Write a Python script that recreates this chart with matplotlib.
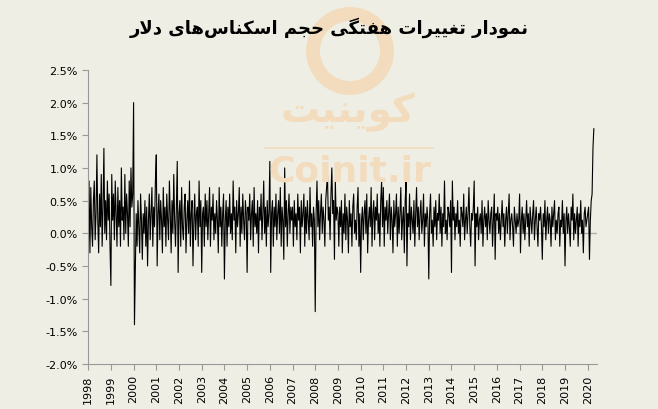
import matplotlib.pyplot as plt
from matplotlib.patches import Ellipse
import numpy as np

# weekly change in dollar banknote volume (%), estimated by eye, ~26 points per year
values = {
    1998: [-.6, .8, -.3, .7, .1, -.2, .5, .8, -.1, .3, 1.2, .2, -.3, .6, .1, .9, -.2, .4, 1.3, .0, .5, -.1, .8, .2, .6, -.2],
    1999: [-.8, .9, .2, .6, -.1, .8, .3, -.2, .7, .1, .5, -.2, 1.0, .2, .4, -.1, .9, .0, .6, .3, -.2, .8, .1, 1.0, .4, .6],
    2000: [2.0, -1.4, -.5, .3, -.2, .5, .1, -.3, .6, .2, -.4, .3, .0, .5, -.2, .4, -.5, .2, .6, -.1, .3, .7, -.2, .4, .1, .8],
    2001: [1.2, -.5, .3, .6, -.1, .5, .2, -.3, .7, .1, .4, -.2, .6, .2, -.1, .8, .3, -.3, .5, .0, .9, .2, -.2, .4, 1.1, -.6],
    2002: [.3, .5, -.2, .7, .1, -.1, .4, .6, -.3, .2, .5, .0, .8, -.2, .3, .5, -.5, .2, .6, -.1, .3, .4, -.2, .8, .1, .5],
    2003: [-.6, .3, .4, -.2, .6, .1, .5, -.1, .3, .7, -.2, .4, .2, .6, -.1, .3, .0, .5, .2, -.3, .7, .1, .4, -.2, .3, .6],
    2004: [-.7, .2, .5, -.2, .4, .1, .6, .0, .3, -.1, .8, .2, .4, -.3, .5, .1, .3, .7, -.2, .4, .0, .6, .2, -.1, .5, .3],
    2005: [-.6, .4, .2, .6, -.1, .3, .5, -.2, .7, .1, .3, .0, .5, -.3, .4, .2, .6, -.1, .3, .8, .0, .4, -.2, .5, .1, .3],
    2006: [1.1, -.6, .3, .5, -.2, .4, .1, .6, -.1, .3, .5, .0, .7, -.2, .4, .2, -.4, 1.0, .1, .5, -.2, .3, .6, .0, .4, .2],
    2007: [.4, -.2, .5, .1, .3, -.1, .6, .2, .4, -.3, .5, .1, .3, .6, -.2, .4, .0, .5, .2, -.1, .7, .1, .3, -.2, .4, .2],
    2008: [-1.2, .3, .8, .1, .5, -.1, .3, .6, .0, .4, .2, -.2, .5, .7, .9, .2, .4, -.1, .6, 1.0, .3, .5, -.4, .8, .2, .4],
    2009: [.3, -.2, .4, .1, .5, -.3, .3, .0, .6, -.1, .4, .2, -.3, .5, .1, .3, -.2, .4, .6, .0, .2, -.1, .4, .7, -.2, .3],
    2010: [-.6, .2, .4, -.1, .3, .5, .0, .6, -.3, .2, .4, .1, .7, -.2, .3, .5, -.1, .4, .2, .6, .0, .3, -.2, .5, .8, .1],
    2011: [.7, -.2, .4, .2, .5, .0, .3, .6, -.1, .4, .2, -.3, .5, .1, .3, .6, -.2, .4, .0, .3, .7, -.1, .2, .4, -.3, .5],
    2012: [.8, -.5, .3, .1, .6, -.1, .4, .2, .0, .5, -.2, .3, .7, .1, .4, -.1, .3, .5, .0, .2, .6, -.2, .3, .1, .4, .2],
    2013: [-.7, .3, .6, .0, .2, -.2, .4, .1, .5, -.1, .3, .2, .6, .0, .4, -.2, .3, .1, .8, .0, .2, -.1, .4, .3, .1, .5],
    2014: [-.6, .8, .2, .4, -.1, .3, .1, .5, .0, .2, -.2, .4, .3, .1, .6, -.1, .2, .4, .0, .3, .7, .1, -.2, .3, .2, .4],
    2015: [.8, -.5, .3, .1, .4, -.1, .2, .3, .0, .5, -.2, .2, .4, .1, .3, -.1, .5, .2, .0, .3, .4, -.2, .2, .6, -.4, .3],
    2016: [.2, .4, .0, .3, -.1, .2, .5, .1, .3, -.2, .2, .4, .0, .3, .6, -.1, .2, .3, .1, -.2, .4, .2, .0, .3, .1, .2],
    2017: [.6, -.3, .2, .4, .0, .3, -.1, .2, .5, .1, .3, -.2, .4, .2, .0, .3, .5, -.1, .2, .4, .1, -.2, .3, .2, .4, .1],
    2018: [-.4, .3, .1, .5, -.1, .2, .4, .0, .3, .2, -.2, .4, .1, .3, .5, -.1, .2, .0, .3, .4, -.2, .2, .1, .5, .0, .3],
    2019: [-.5, .2, .4, .0, .3, .1, -.2, .4, .2, .6, -.1, .3, .0, .2, .4, -.2, .3, .1, .5, .0, .2, -.3, .3, .4, .1, .2],
    2020: [.3, .4, -.4, .2, .5, .6, 1.3, 1.6],
}
years = list(range(1998, 2021))

title_fa = "نمودار تغییرات هفتگی حجم اسکناس‌های دلار"
brand_fa = "کوینیت"

# minimal Persian shaping (matplotlib has no Arabic shaping)
FORMS = {
    'ا': (0xFE8D, 0xFE8E, None, None), 'د': (0xFEA9, 0xFEAA, None, None),
    'ر': (0xFEAD, 0xFEAE, None, None), 'و': (0xFEED, 0xFEEE, None, None),
    'ن': (0xFEE5, 0xFEE6, 0xFEE7, 0xFEE8), 'م': (0xFEE1, 0xFEE2, 0xFEE3, 0xFEE4),
    'ت': (0xFE95, 0xFE96, 0xFE97, 0xFE98), 'غ': (0xFECD, 0xFECE, 0xFECF, 0xFED0),
    'ه': (0xFEE9, 0xFEEA, 0xFEEB, 0xFEEC), 'ف': (0xFED1, 0xFED2, 0xFED3, 0xFED4),
    'ح': (0xFEA1, 0xFEA2, 0xFEA3, 0xFEA4), 'ج': (0xFE9D, 0xFE9E, 0xFE9F, 0xFEA0),
    'س': (0xFEB1, 0xFEB2, 0xFEB3, 0xFEB4), 'ل': (0xFEDD, 0xFEDE, 0xFEDF, 0xFEE0),
    'ی': (0xFBFC, 0xFBFD, 0xFBFE, 0xFBFF), 'ک': (0xFB8E, 0xFB8F, 0xFB90, 0xFB91),
    'گ': (0xFB92, 0xFB93, 0xFB94, 0xFB95),
}


def shape(s):
    chars = list(s)
    out = []
    i = 0
    while i < len(chars):
        c = chars[i]
        if c not in FORMS:
            out.append(c)
            i += 1
            continue
        prev = chars[i - 1] if i > 0 else None
        jp = prev in FORMS and FORMS[prev][2] is not None
        nxt = chars[i + 1] if i + 1 < len(chars) else None
        if c == 'ل' and nxt == 'ا':
            out.append(chr(0xFEFC if jp else 0xFEFB))
            i += 2
            continue
        jn = FORMS[c][2] is not None and nxt in FORMS
        f = FORMS[c]
        if jp and jn:
            out.append(chr(f[3]))
        elif jp:
            out.append(chr(f[1]))
        elif jn:
            out.append(chr(f[2]))
        else:
            out.append(chr(f[0]))
        i += 1
    return ''.join(out).replace('\u200c', '')[::-1]


x, y = [], []
for yr in years:
    v = values[yr]
    n = 26
    for i, val in enumerate(v):
        x.append(yr + i / n)
        y.append(val)

bg = '#eeeee4'
wm = '#f3dcbd'
fig = plt.figure(figsize=(6.58, 4.10), dpi=100, facecolor=bg)
ax = fig.add_axes([0.134, 0.110, 0.773, 0.717], facecolor=bg)

# watermark
fig.patches.append(Ellipse((350 / 658, 1 - 52 / 410), 74 / 658, 74 / 410,
                           transform=fig.transFigure, fill=False, lw=10, ec=wm, zorder=0))
fig.text(348 / 658, 1 - 112 / 410, shape(brand_fa), fontsize=28, fontweight='bold',
         color=wm, ha='center', va='center', family='DejaVu Sans', zorder=0)
fig.lines.append(plt.Line2D([265 / 658, 433 / 658], [1 - 149 / 410] * 2,
                            transform=fig.transFigure, color=wm, lw=1.2, zorder=0))
fig.text(350 / 658, 1 - 172 / 410, 'Coinit.ir', fontsize=26, fontweight='bold',
         color=wm, ha='center', va='center', family='DejaVu Sans', zorder=0)

ax.axhline(0, color='#b0b0b0', lw=1, zorder=1)
ax.plot(x, y, color='black', lw=0.8, zorder=2)

ax.set_xlim(1998, 2020.4)
ax.set_ylim(-2.0, 2.5)
ax.set_yticks(np.arange(-2.0, 2.51, 0.5))
ax.set_yticklabels([f'{t:.1f}%' for t in np.arange(-2.0, 2.51, 0.5)], fontsize=8)
ax.set_xticks(years)
ax.set_xticklabels([str(t) for t in years], rotation=90, fontsize=8)
for s in ['top', 'right']:
    ax.spines[s].set_visible(False)
for s in ['left', 'bottom']:
    ax.spines[s].set_color('#999999')
ax.tick_params(colors='#999999', labelcolor='black', length=4)

fig.text(0.5, 1 - 28 / 410, shape(title_fa), fontsize=13, fontweight='bold',
         ha='center', va='center', family='DejaVu Sans', zorder=3)

fig.savefig('out.png', dpi=100, facecolor=bg)
